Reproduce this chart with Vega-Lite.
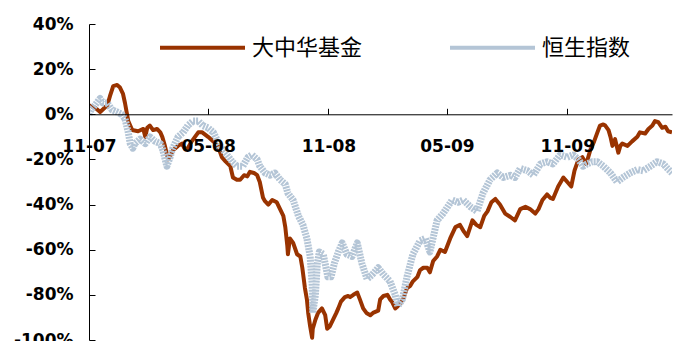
{
  "$schema": "https://vega.github.io/schema/vega-lite/v6.json",
  "width": 583,
  "height": 316,
  "autosize": "none",
  "padding": {"left": 89, "top": 24, "right": 3, "bottom": 1},
  "background": "white",
  "config": {"view": {"stroke": null}},
  "datasets": {
    "fund": [
      {"date":"2007-11-01","pct":4},{"date":"2007-11-10","pct":3},{"date":"2007-11-18","pct":1},{"date":"2007-11-29","pct":4},{"date":"2007-12-03","pct":8},{"date":"2007-12-08","pct":12.5},{"date":"2007-12-14","pct":13},{"date":"2007-12-18","pct":12},{"date":"2007-12-23","pct":9},{"date":"2007-12-26","pct":5},{"date":"2007-12-31","pct":-3},
      {"date":"2008-01-06","pct":-7},{"date":"2008-01-15","pct":-7.5},{"date":"2008-01-23","pct":-6.5},{"date":"2008-01-26","pct":-10},{"date":"2008-01-29","pct":-6},{"date":"2008-02-02","pct":-5},{"date":"2008-02-07","pct":-7},{"date":"2008-02-13","pct":-6.5},{"date":"2008-02-18","pct":-8},{"date":"2008-02-21","pct":-10},{"date":"2008-02-25","pct":-14},
      {"date":"2008-03-01","pct":-20},{"date":"2008-03-05","pct":-18},{"date":"2008-03-08","pct":-16},{"date":"2008-03-16","pct":-14},{"date":"2008-03-22","pct":-13},{"date":"2008-03-27","pct":-15.5},{"date":"2008-03-31","pct":-15},{"date":"2008-04-06","pct":-12},{"date":"2008-04-11","pct":-10},{"date":"2008-04-16","pct":-8},{"date":"2008-04-22","pct":-8},
      {"date":"2008-05-01","pct":-10},{"date":"2008-05-09","pct":-12},{"date":"2008-05-16","pct":-14},{"date":"2008-05-22","pct":-19},{"date":"2008-05-28","pct":-21},{"date":"2008-06-04","pct":-23},{"date":"2008-06-08","pct":-28},{"date":"2008-06-14","pct":-29},{"date":"2008-06-19","pct":-29},{"date":"2008-06-25","pct":-27},{"date":"2008-06-30","pct":-27.5},
      {"date":"2008-07-04","pct":-25.5},{"date":"2008-07-10","pct":-26},{"date":"2008-07-15","pct":-27},{"date":"2008-07-19","pct":-30},{"date":"2008-07-24","pct":-37},{"date":"2008-07-27","pct":-38.5},{"date":"2008-08-01","pct":-40},{"date":"2008-08-07","pct":-38},{"date":"2008-08-14","pct":-39},{"date":"2008-08-19","pct":-42},{"date":"2008-08-24","pct":-45},
      {"date":"2008-08-27","pct":-50},{"date":"2008-08-30","pct":-58},{"date":"2008-08-31","pct":-62},{"date":"2008-09-03","pct":-55},{"date":"2008-09-08","pct":-57},{"date":"2008-09-14","pct":-62},{"date":"2008-09-19","pct":-63},{"date":"2008-09-22","pct":-68},{"date":"2008-09-26","pct":-77},{"date":"2008-09-29","pct":-82},{"date":"2008-10-01","pct":-88},
      {"date":"2008-10-04","pct":-94},{"date":"2008-10-07","pct":-99},{"date":"2008-10-08","pct":-95},{"date":"2008-10-12","pct":-91},{"date":"2008-10-16","pct":-88},{"date":"2008-10-19","pct":-87},{"date":"2008-10-22","pct":-86},{"date":"2008-10-27","pct":-89},{"date":"2008-10-30","pct":-95},{"date":"2008-11-03","pct":-94},{"date":"2008-11-08","pct":-91},
      {"date":"2008-11-13","pct":-88},{"date":"2008-11-16","pct":-86},{"date":"2008-11-20","pct":-83},{"date":"2008-11-26","pct":-81},{"date":"2008-12-01","pct":-80.5},{"date":"2008-12-04","pct":-81},{"date":"2008-12-09","pct":-80},{"date":"2008-12-15","pct":-79},{"date":"2008-12-19","pct":-82},{"date":"2008-12-24","pct":-86},{"date":"2008-12-29","pct":-88},
      {"date":"2009-01-04","pct":-89},{"date":"2009-01-08","pct":-88},{"date":"2009-01-16","pct":-87},{"date":"2009-01-19","pct":-82},{"date":"2009-01-24","pct":-80.5},{"date":"2009-01-30","pct":-80},{"date":"2009-02-03","pct":-82},{"date":"2009-02-06","pct":-83},{"date":"2009-02-11","pct":-86},{"date":"2009-02-15","pct":-85},{"date":"2009-02-23","pct":-82},
      {"date":"2009-03-01","pct":-77},{"date":"2009-03-06","pct":-76},{"date":"2009-03-10","pct":-74},{"date":"2009-03-17","pct":-72},{"date":"2009-03-21","pct":-69},{"date":"2009-03-26","pct":-68},{"date":"2009-04-01","pct":-68},{"date":"2009-04-05","pct":-70},{"date":"2009-04-10","pct":-65},{"date":"2009-04-16","pct":-63},{"date":"2009-04-21","pct":-60},
      {"date":"2009-04-28","pct":-61},{"date":"2009-05-06","pct":-55},{"date":"2009-05-14","pct":-50},{"date":"2009-05-21","pct":-49},{"date":"2009-05-27","pct":-52},{"date":"2009-06-01","pct":-54},{"date":"2009-06-09","pct":-47},{"date":"2009-06-15","pct":-49},{"date":"2009-06-21","pct":-50},{"date":"2009-06-27","pct":-45},{"date":"2009-07-02","pct":-43},
      {"date":"2009-07-08","pct":-39},{"date":"2009-07-14","pct":-37.5},{"date":"2009-07-21","pct":-40},{"date":"2009-07-29","pct":-44},{"date":"2009-08-06","pct":-45.5},{"date":"2009-08-13","pct":-47},{"date":"2009-08-21","pct":-42},{"date":"2009-08-29","pct":-41},{"date":"2009-09-05","pct":-42},{"date":"2009-09-13","pct":-44},{"date":"2009-09-18","pct":-42},
      {"date":"2009-09-24","pct":-38},{"date":"2009-10-01","pct":-35.5},{"date":"2009-10-06","pct":-37},{"date":"2009-10-10","pct":-37.5},{"date":"2009-10-18","pct":-32},{"date":"2009-10-26","pct":-28},{"date":"2009-11-01","pct":-30},{"date":"2009-11-07","pct":-32},{"date":"2009-11-12","pct":-25},{"date":"2009-11-18","pct":-20},{"date":"2009-11-24","pct":-19},
      {"date":"2009-11-30","pct":-22},{"date":"2009-12-06","pct":-16},{"date":"2009-12-12","pct":-12},{"date":"2009-12-17","pct":-8},{"date":"2009-12-21","pct":-5},{"date":"2009-12-26","pct":-4.5},{"date":"2009-12-29","pct":-5},{"date":"2010-01-03","pct":-7},{"date":"2010-01-06","pct":-10},{"date":"2010-01-09","pct":-14},{"date":"2010-01-13","pct":-11},
      {"date":"2010-01-18","pct":-17},{"date":"2010-01-21","pct":-14},{"date":"2010-01-24","pct":-13},{"date":"2010-02-01","pct":-14},{"date":"2010-02-08","pct":-12},{"date":"2010-02-16","pct":-10},{"date":"2010-02-20","pct":-8},{"date":"2010-02-28","pct":-8.5},{"date":"2010-03-05","pct":-6.5},{"date":"2010-03-11","pct":-5},{"date":"2010-03-15","pct":-3},
      {"date":"2010-03-20","pct":-3.5},{"date":"2010-03-26","pct":-6},{"date":"2010-03-31","pct":-5.5},{"date":"2010-04-04","pct":-7.5},{"date":"2010-04-10","pct":-8}
    ],
    "hsi": [
      {"date":"2007-11-01","pct":0},{"date":"2007-11-04","pct":2},{"date":"2007-11-10","pct":4},{"date":"2007-11-18","pct":7},{"date":"2007-11-22","pct":5},{"date":"2007-11-29","pct":5},{"date":"2007-12-06","pct":2},{"date":"2007-12-14","pct":1},{"date":"2007-12-21","pct":0},{"date":"2007-12-26","pct":-2},{"date":"2007-12-31","pct":-8},
      {"date":"2008-01-03","pct":-13},{"date":"2008-01-07","pct":-15},{"date":"2008-01-10","pct":-13},{"date":"2008-01-18","pct":-11},{"date":"2008-01-26","pct":-13},{"date":"2008-02-02","pct":-10},{"date":"2008-02-10","pct":-12},{"date":"2008-02-18","pct":-13},{"date":"2008-02-22","pct":-16},{"date":"2008-02-28","pct":-23},{"date":"2008-03-04","pct":-19},
      {"date":"2008-03-08","pct":-15},{"date":"2008-03-16","pct":-10},{"date":"2008-03-24","pct":-8},{"date":"2008-03-31","pct":-5},{"date":"2008-04-08","pct":-3},{"date":"2008-04-16","pct":-3},{"date":"2008-04-23","pct":-5},{"date":"2008-05-01","pct":-6},{"date":"2008-05-09","pct":-8},{"date":"2008-05-19","pct":-14},{"date":"2008-05-30","pct":-18},
      {"date":"2008-06-07","pct":-21},{"date":"2008-06-14","pct":-23},{"date":"2008-06-23","pct":-23},{"date":"2008-07-01","pct":-19},{"date":"2008-07-07","pct":-18},{"date":"2008-07-15","pct":-20},{"date":"2008-07-19","pct":-23},{"date":"2008-07-27","pct":-26},{"date":"2008-08-04","pct":-27},{"date":"2008-08-11","pct":-26},{"date":"2008-08-19","pct":-29},
      {"date":"2008-08-27","pct":-31},{"date":"2008-08-31","pct":-35},{"date":"2008-09-08","pct":-38},{"date":"2008-09-16","pct":-45},{"date":"2008-09-23","pct":-49},{"date":"2008-09-29","pct":-55},{"date":"2008-10-04","pct":-63},{"date":"2008-10-07","pct":-75},{"date":"2008-10-08","pct":-88},{"date":"2008-10-12","pct":-80},{"date":"2008-10-15","pct":-66},
      {"date":"2008-10-18","pct":-61},{"date":"2008-10-24","pct":-62},{"date":"2008-10-31","pct":-72},{"date":"2008-11-05","pct":-72},{"date":"2008-11-10","pct":-66},{"date":"2008-11-16","pct":-61},{"date":"2008-11-22","pct":-57},{"date":"2008-11-29","pct":-62},{"date":"2008-12-07","pct":-63},{"date":"2008-12-15","pct":-57},{"date":"2008-12-22","pct":-66},
      {"date":"2008-12-30","pct":-73},{"date":"2009-01-07","pct":-71},{"date":"2009-01-16","pct":-68},{"date":"2009-01-24","pct":-71},{"date":"2009-02-03","pct":-74},{"date":"2009-02-11","pct":-80},{"date":"2009-02-15","pct":-85},{"date":"2009-02-22","pct":-82},{"date":"2009-03-01","pct":-72},{"date":"2009-03-10","pct":-62},{"date":"2009-03-21","pct":-56},
      {"date":"2009-03-29","pct":-55},{"date":"2009-04-05","pct":-61},{"date":"2009-04-16","pct":-47},{"date":"2009-04-25","pct":-44},{"date":"2009-05-09","pct":-38},{"date":"2009-05-18","pct":-39},{"date":"2009-05-26","pct":-38},{"date":"2009-06-06","pct":-41},{"date":"2009-06-16","pct":-43},{"date":"2009-06-25","pct":-35},{"date":"2009-07-06","pct":-29},
      {"date":"2009-07-17","pct":-26},{"date":"2009-07-26","pct":-28},{"date":"2009-08-06","pct":-27},{"date":"2009-08-13","pct":-28},{"date":"2009-08-21","pct":-24},{"date":"2009-09-01","pct":-25},{"date":"2009-09-10","pct":-27},{"date":"2009-09-21","pct":-22},{"date":"2009-10-01","pct":-21},{"date":"2009-10-10","pct":-22},{"date":"2009-10-21","pct":-18},
      {"date":"2009-11-01","pct":-19},{"date":"2009-11-10","pct":-18},{"date":"2009-11-18","pct":-20},{"date":"2009-11-25","pct":-23},{"date":"2009-12-01","pct":-22},{"date":"2009-12-09","pct":-21},{"date":"2009-12-17","pct":-21},{"date":"2009-12-26","pct":-23},{"date":"2010-01-06","pct":-26},{"date":"2010-01-16","pct":-30},{"date":"2010-01-25","pct":-28},
      {"date":"2010-02-05","pct":-26},{"date":"2010-02-16","pct":-24.5},{"date":"2010-02-25","pct":-25},{"date":"2010-03-08","pct":-23},{"date":"2010-03-18","pct":-21},{"date":"2010-03-28","pct":-22},{"date":"2010-04-03","pct":-24},{"date":"2010-04-10","pct":-26}
    ]
  },
  "encoding": {
    "x": {
      "field": "date", "type": "temporal",
      "scale": {"type": "utc", "domain": [{"year": 2007, "month": 11, "date": 1, "utc": true}, {"year": 2010, "month": 4, "date": 10, "utc": true}]},
      "axis": {
        "title": null, "orient": "bottom", "offset": -225.714, "zindex": 1,
        "values": [{"year": 2007, "month": 11, "date": 1, "utc": true}, {"year": 2008, "month": 5, "date": 1, "utc": true}, {"year": 2008, "month": 11, "date": 1, "utc": true}, {"year": 2009, "month": 5, "date": 1, "utc": true}, {"year": 2009, "month": 11, "date": 1, "utc": true}],
        "format": "%m-%y", "labelFlush": false, "labelOverlap": false, "labelBound": false,
        "labelFont": "DejaVu Sans", "labelFontWeight": "bold", "labelFontSize": 17, "labelColor": "#000",
        "tickSize": -6, "labelPadding": 30, "tickColor": "#000", "domainColor": "#000", "grid": false
      }
    },
    "y": {
      "field": "pct", "type": "quantitative",
      "scale": {"domain": [-100, 40], "nice": false, "zero": false},
      "axis": {
        "title": null, "values": [-100, -80, -60, -40, -20, 0, 20, 40], "zindex": 1,
        "labelExpr": "datum.value + '%'",
        "labelFont": "DejaVu Sans", "labelFontWeight": "bold", "labelFontSize": 17, "labelColor": "#000",
        "tickSize": -6, "labelPadding": 22, "tickColor": "#000", "domainColor": "#000", "grid": false, "labelOverlap": false, "labelBound": false
      }
    },
    "color": {
      "field": "series", "type": "nominal",
      "scale": {"domain": ["大中华基金", "恒生指数"], "range": ["#993300", "#b4c5d6"]},
      "legend": {
        "title": null, "orient": "none", "direction": "horizontal", "legendX": 69, "legendY": -21,
        "symbolType": "stroke", "symbolSize": 7225, "symbolStrokeWidth": 4, "symbolOpacity": 1,
        "labelFont": "Noto Sans CJK SC", "labelFontSize": 22, "labelColor": "#000", "labelOffset": 5,
        "columnPadding": 79, "padding": 0, "labelLimit": 300
      }
    }
  },
  "layer": [
    {
      "data": {"name": "fund"},
      "transform": [{"calculate": "'大中华基金'", "as": "series"}],
      "mark": {"type": "line", "strokeWidth": 4, "strokeJoin": "round", "clip": true}
    },
    {
      "data": {"name": "hsi"},
      "transform": [{"calculate": "'恒生指数'", "as": "series"}],
      "mark": {"type": "line", "strokeWidth": 7, "strokeJoin": "round", "strokeDash": [2, 1], "clip": true}
    }
  ]
}
